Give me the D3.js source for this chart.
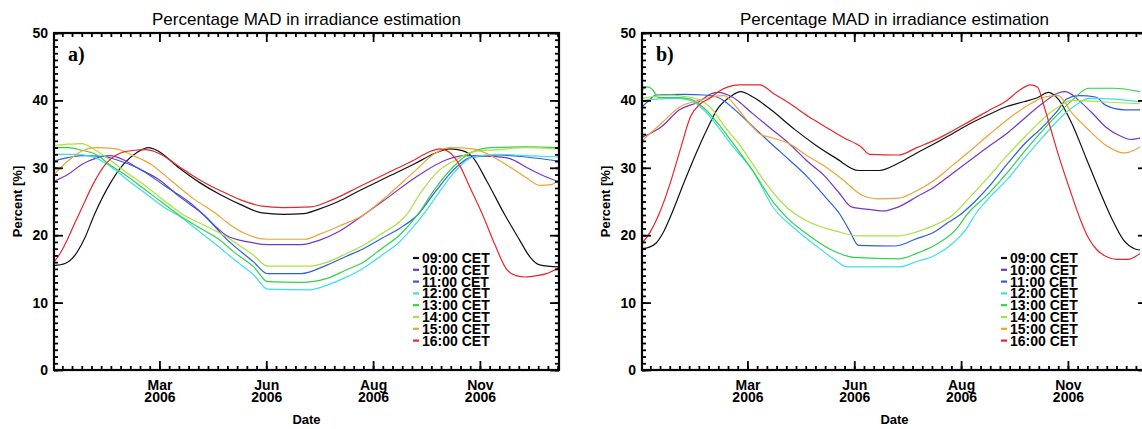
<!DOCTYPE html>
<html><head><meta charset="utf-8">
<script src="https://cdn.jsdelivr.net/npm/d3@7"></script>
<style>
body{margin:0;background:#fff;}
svg{display:block;}
</style></head><body>
<svg id="chart" width="1142" height="429"></svg>
<script>
// ---------- data ----------
const seriesLabels = ["09:00 CET","10:00 CET","11:00 CET","12:00 CET","13:00 CET","14:00 CET","15:00 CET","16:00 CET"];
const seriesColors = ["#111111","#7436c8","#2c5fe0","#3ce0e8","#2fd24a","#a8e23e","#f0a234","#e8262a"];
const panelLabels = ["a)","b)"];
const titleText = "Percentage MAD in irradiance estimation";
const yTickValues = [0,10,20,30,40,50];
const xMajorTicks = ["2006-03-18","2006-06-03","2006-08-19","2006-11-04"];
const xAxisStart = "2006-01-01", xAxisEnd = "2006-12-31", xMinorFirst = "2006-01-07";

// panel a)  [day of year, percent]
const a09 = [[0,15.5],[8,15.8],[15,17],[22,19.5],[29,23],[40,27.5],[50,30.5],[60,32.3],[68,33],[75,32.5],[90,30],[105,27.8],[120,26],[135,24.5],[150,23.3],[165,23.1],[180,23.2],[190,23.8],[205,25],[220,26.6],[240,28.6],[260,30.6],[275,32.2],[285,32.8],[295,32.5],[302,31.5],[312,28],[325,23],[335,19.5],[343,16.8],[350,15.6],[364,15.3]];
const a10 = [[0,28],[10,29],[20,30.5],[30,31.4],[40,31.8],[50,31.2],[60,30],[76,28.2],[90,25.8],[108,23],[118,21],[124,20],[140,19],[155,18.6],[178,18.6],[192,19.3],[205,20.5],[223,23],[240,25.5],[260,28.5],[283,31.2],[296,31.8],[315,31.7],[328,31.4],[341,30],[354,28.7],[364,27.9]];
const a11 = [[0,31],[10,31.5],[20,31.8],[35,31.7],[45,31.2],[60,30],[80,27.3],[100,24.5],[108,23],[124,19.5],[144,16],[154,14.3],[178,14.3],[197,15.6],[210,16.8],[223,18],[236,19.5],[249,21],[262,23],[275,26.5],[288,29.7],[300,31.5],[320,31.9],[340,31.6],[364,31]];
const a12 = [[0,32],[15,32],[27,31.7],[40,30.3],[53,28.2],[66,26.2],[79,24.2],[92,22.6],[105,20.5],[118,18.4],[131,16.2],[144,14.1],[154,12],[184,11.9],[197,12.6],[210,13.7],[223,15.1],[236,17],[249,19],[258,21],[266,23],[277,26.2],[288,29.2],[302,31.6],[320,32],[340,31.8],[364,31.6]];
const a13 = [[0,33],[10,33],[20,32.6],[30,32],[40,30.5],[53,28.7],[66,26.7],[79,24.7],[90,23],[104,21.2],[118,19.5],[131,17.3],[144,15.3],[154,13.1],[178,13],[197,13.6],[210,14.8],[223,16],[236,18],[249,20],[262,23],[275,27],[288,30.2],[300,32.2],[315,33],[340,33.1],[364,33]];
const a14 = [[0,33.3],[10,33.5],[20,33.6],[30,32.6],[40,31.2],[53,29.2],[66,27.3],[79,25.2],[92,23.2],[108,21.5],[124,19.8],[135,18.3],[144,17],[154,15.4],[184,15.4],[197,16],[210,17.2],[223,18.5],[236,20.2],[249,22],[254,23],[265,26.5],[277,29.5],[290,31.2],[302,32.4],[320,32.7],[340,33],[364,32.8]];
const a15 = [[0,29],[10,31],[20,32.5],[30,33],[45,32.8],[55,32],[70,30.5],[85,28],[100,25.5],[118,23],[124,22],[135,20.5],[155,19.4],[181,19.4],[192,20.2],[205,21.3],[223,23],[240,25.8],[260,29.5],[275,32.2],[286,33],[302,32.8],[315,31.8],[328,30.2],[340,28.6],[350,27.4],[358,27.5],[364,28.2]];
const a16 = [[0,16],[5,17.5],[10,19.5],[15,21.8],[20,24],[28,27.5],[37,30.5],[48,32.2],[58,32.6],[66,32.7],[75,32.2],[90,30.2],[105,28.2],[120,26.6],[135,25.2],[150,24.3],[165,24.1],[185,24.2],[200,25.2],[220,27.2],[240,29.2],[260,31.2],[272,32.5],[278,32.8],[285,32.3],[292,30.5],[300,27],[309,23],[318,18.5],[326,15],[333,14],[340,13.8],[348,14],[355,14.3],[364,15.2]];

// panel b)
const b09 = [[0,18],[5,18.2],[10,18.8],[15,20.3],[21,23],[31,28.2],[41,33.1],[48,36.2],[54,38.6],[64,40.6],[71,41.3],[80,40.5],[93,38.6],[110,35.7],[125,33.4],[140,31.4],[156,29.6],[171,29.6],[185,30.7],[198,32.2],[211,33.6],[224,35.1],[237,36.6],[250,37.9],[263,39.1],[275,39.8],[285,40.4],[293,41.2],[300,40.2],[310,36.5],[320,31.5],[330,26.5],[339,22.3],[347,19.3],[355,18],[359,17.8]];
const b10 = [[0,34.5],[7,35.2],[14,36.1],[27,38.6],[41,39.8],[50,41],[55,41.2],[65,40.5],[80,38],[93,35.8],[106,33.6],[119,31],[132,28.7],[142,26.3],[151,24.2],[165,23.8],[175,23.6],[179,23.8],[185,24.2],[198,25.7],[211,27.2],[224,29.2],[237,31.2],[250,33.2],[263,35.1],[276,37.4],[289,39.6],[300,41.1],[305,41.3],[317,39.6],[326,37.8],[334,36.1],[346,34.6],[352,34.2],[359,34.4]];
const b11 = [[0,39],[5,40],[10,40.8],[30,40.9],[45,40.8],[54,40.5],[60,39.8],[67,38.6],[80,36.1],[93,33.6],[106,31.2],[119,28.7],[132,25.7],[143,23],[150,20.5],[156,18.5],[182,18.4],[198,19.5],[211,20.5],[220,21.8],[229,23],[240,25],[250,27.2],[263,30.5],[276,33.6],[289,36.1],[300,38.6],[306,40.2],[315,40.7],[327,40.5],[334,39.3],[348,38.6],[359,38.6]];
const b12 = [[0,40],[10,40.2],[25,40.3],[35,40],[45,38.5],[55,36],[65,33.3],[80,29.5],[95,24],[110,21],[125,18.5],[138,16.5],[148,15.3],[185,15.3],[198,16.1],[211,17],[224,18.8],[234,21],[240,23],[250,25.5],[263,28.2],[276,31.5],[289,34.6],[302,37.5],[315,39.6],[322,40.3],[340,40.2],[359,39.8]];
const b13 = [[0,41.5],[4,42],[8,41.5],[12,40.4],[25,40.4],[35,40.2],[45,38.8],[55,36.5],[65,33.8],[80,29.5],[95,24.8],[105,22.5],[120,20],[135,18],[153,16.7],[185,16.5],[198,17.3],[211,18.5],[227,21],[234,23],[250,26.2],[263,29.2],[276,32.5],[289,35.6],[300,38],[310,40],[322,41.8],[340,41.8],[359,41.3]];
const b14 = [[0,40.3],[10,40.6],[20,40.8],[30,40.6],[40,40.2],[50,38.8],[60,36],[70,33.5],[80,30.5],[90,27.5],[105,24],[120,22],[140,20.6],[156,19.9],[185,19.9],[198,20.5],[211,21.5],[224,23],[237,25.8],[250,28.7],[263,31.8],[276,34.6],[297,38.6],[310,40],[330,39.8],[359,39.5]];
const b15 = [[0,34],[14,36.6],[27,39],[41,40],[50,40.5],[59,40.7],[70,38.5],[80,36],[85,35],[93,34.5],[106,33.6],[119,31.8],[132,30.2],[145,28.2],[158,26],[170,25.4],[185,25.5],[198,26.6],[211,28.2],[224,30.4],[237,32.6],[250,34.9],[263,37.1],[281,39.6],[290,40.5],[300,40.7],[310,38.1],[322,35.6],[334,33.4],[348,32.2],[359,33.1]];
const b16 = [[0,18.8],[6,20.5],[12,23],[20,27.5],[28,33],[35,37.6],[42,39.5],[48,40.2],[55,41.3],[62,42],[70,42.3],[85,42.3],[95,41],[106,39.6],[120,37.6],[132,36.1],[145,34.5],[158,33.1],[164,32],[185,31.9],[198,33],[211,34.1],[224,35.5],[237,37],[250,38.5],[263,40],[272,41.5],[280,42.3],[285,42],[290,39],[295,35.5],[300,32],[308,27],[316,22.3],[322,19.5],[328,17.8],[335,16.8],[342,16.4],[350,16.4],[359,17.3]];

// ---------- drawing ----------
const svg = d3.select("#chart");
const parse = d3.timeParse("%Y-%m-%d");
const start = parse(xAxisStart), end = parse(xAxisEnd);
const majorDates = xMajorTicks.map(parse);
const minorDates = d3.timeDay.range(parse(xMinorFirst), d3.timeDay.offset(end,1), 7);
const yMinor = d3.range(0, 51, 1);
const FONT = "'Liberation Sans', Arial, Helvetica, sans-serif";

const layout = [{left:54}, {left:642}];
const W = 505, TOP = 33, BOTTOM = 370;
const panelSeries = [[a09,a10,a11,a12,a13,a14,a15,a16],[b09,b10,b11,b12,b13,b14,b15,b16]];

layout.forEach((L, pi) => {
  const g = svg.append("g");
  const x = d3.scaleTime().domain([start, end]).range([L.left, L.left + W]);
  const y = d3.scaleLinear().domain([0, 50]).range([BOTTOM, TOP]);

  const clipId = "clip" + pi;
  svg.append("clipPath").attr("id", clipId).append("rect")
     .attr("x", L.left).attr("y", TOP).attr("width", W).attr("height", BOTTOM - TOP);

  const line = d3.line()
    .x(d => x(d3.timeDay.offset(start, d[0])))
    .y(d => y(d[1]))
    .curve(d3.curveMonotoneX);

  const lines = g.append("g").attr("clip-path", `url(#${clipId})`);
  panelSeries[pi].forEach((s, i) => {
    lines.append("path").attr("d", line(s)).attr("fill", "none")
      .attr("stroke", seriesColors[i]).attr("stroke-width", 1.2)
      .attr("stroke-linejoin", "round");
  });

  const styleAxis = sel => {
    sel.select(".domain").remove();
    sel.selectAll("line").attr("stroke", "#000").attr("stroke-width", 1.8);
  };
  // minor ticks
  g.append("g").attr("transform", `translate(0,${BOTTOM})`)
    .call(d3.axisBottom(x).tickValues(minorDates).tickSizeInner(-4).tickSizeOuter(0).tickFormat(""))
    .call(styleAxis);
  g.append("g").attr("transform", `translate(0,${TOP})`)
    .call(d3.axisTop(x).tickValues(minorDates).tickSizeInner(-4).tickSizeOuter(0).tickFormat(""))
    .call(styleAxis);
  g.append("g").attr("transform", `translate(${L.left},0)`)
    .call(d3.axisLeft(y).tickValues(yMinor).tickSizeInner(-4).tickSizeOuter(0).tickFormat(""))
    .call(styleAxis);
  g.append("g").attr("transform", `translate(${L.left + W},0)`)
    .call(d3.axisRight(y).tickValues(yMinor).tickSizeInner(-4).tickSizeOuter(0).tickFormat(""))
    .call(styleAxis);

  // major ticks + labels
  const xb = g.append("g").attr("transform", `translate(0,${BOTTOM})`)
    .call(d3.axisBottom(x).tickValues(majorDates).tickSizeInner(-9).tickSizeOuter(0).tickPadding(10)
      .tickFormat(d3.timeFormat("%b")))
    .call(styleAxis);
  xb.selectAll("text").each(function(d) {
    const t = d3.select(this);
    t.text(null).attr("dy", null).attr("y", 20);
    t.append("tspan").attr("x", 0).attr("y", 20).text(d3.timeFormat("%b")(d));
    t.append("tspan").attr("x", 0).attr("y", 31.5).text(d3.timeFormat("%Y")(d));
  });
  xb.selectAll("text").attr("font-family", FONT).attr("font-weight", "bold")
    .attr("font-size", 14).attr("fill", "#000");

  g.append("g").attr("transform", `translate(0,${TOP})`)
    .call(d3.axisTop(x).tickValues(majorDates).tickSizeInner(-9).tickSizeOuter(0).tickFormat(""))
    .call(styleAxis);
  const yl = g.append("g").attr("transform", `translate(${L.left},0)`)
    .call(d3.axisLeft(y).tickValues(yTickValues).tickSizeInner(-9).tickSizeOuter(0).tickPadding(6))
    .call(styleAxis);
  yl.selectAll("text").attr("font-family", FONT).attr("font-weight", "bold")
    .attr("font-size", 14).attr("fill", "#000");
  g.append("g").attr("transform", `translate(${L.left + W},0)`)
    .call(d3.axisRight(y).tickValues(yTickValues).tickSizeInner(-9).tickSizeOuter(0).tickFormat(""))
    .call(styleAxis);

  // frame
  g.append("rect").attr("x", L.left).attr("y", TOP).attr("width", W).attr("height", BOTTOM - TOP)
    .attr("fill", "none").attr("stroke", "#000").attr("stroke-width", 2.2);

  // title
  g.append("text").attr("x", L.left + W / 2).attr("y", 25).attr("text-anchor", "middle")
    .attr("font-family", FONT).attr("font-size", 17).text(titleText);

  // axis titles
  g.append("text").attr("transform", `translate(${L.left - 32},${(TOP + BOTTOM) / 2}) rotate(-90)`)
    .attr("text-anchor", "middle").attr("font-family", FONT).attr("font-weight", "bold")
    .attr("font-size", 13).text("Percent [%]");
  g.append("text").attr("x", L.left + W / 2).attr("y", 424).attr("text-anchor", "middle")
    .attr("font-family", FONT).attr("font-weight", "bold").attr("font-size", 13).text("Date");

  // panel label
  g.append("text").attr("x", L.left + 14).attr("y", 61)
    .attr("font-family", "'Liberation Serif','Times New Roman',serif").attr("font-weight", "bold")
    .attr("font-size", 20).text(panelLabels[pi]);

  // legend
  const leg = g.append("g").attr("transform", `translate(${L.left + 359},258)`);
  seriesLabels.forEach((lab, i) => {
    const row = leg.append("g").attr("transform", `translate(0,${i * 11.8})`);
    row.append("line").attr("x1", 0).attr("x2", 6).attr("y1", 0).attr("y2", 0)
      .attr("stroke", seriesColors[i]).attr("stroke-width", 2.2);
    row.append("text").attr("x", 9).attr("y", 5).attr("font-family", FONT)
      .attr("font-weight", "bold").attr("font-size", 14).attr("fill", "#000").text(lab);
  });
});
</script>
</body></html>
